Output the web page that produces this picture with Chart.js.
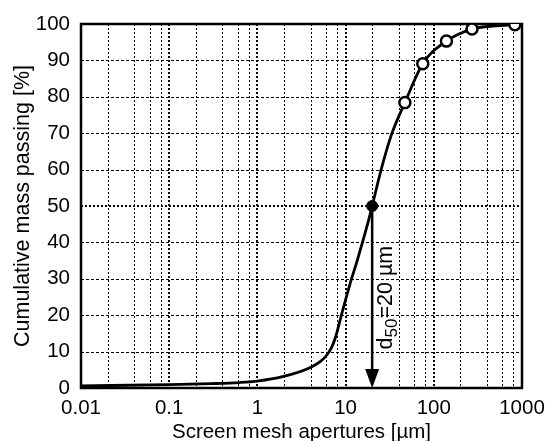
<!DOCTYPE html>
<html>
<head>
<meta charset="utf-8">
<script src="https://cdn.jsdelivr.net/npm/chart.js@4/dist/chart.umd.min.js"></script>
<style>
  html, body { margin: 0; padding: 0; background: #fff; }
  #wrap { width: 547px; height: 441px; }
</style>
</head>
<body>
<div id="wrap"><canvas id="c" width="547" height="441"></canvas></div>
<script>
// Fitted cumulative passing curve (aperture in µm, passing in %)
const curveX = [0.01, 0.1, 0.3, 0.62, 1, 1.93, 3.88, 5.2, 6.1, 6.9, 7.7, 8.89, 11.04, 13.72, 17.83, 20, 25.3, 32.9, 47, 75, 139, 271, 500, 830];
const curveY = [0.6, 0.9, 1.2, 1.5, 1.9, 3.1, 5.5, 7.3, 9.0, 11.0, 14.0, 19.7, 28.0, 35.5, 45.2, 50.0, 60.0, 69.4, 78.4, 89.1, 95.3, 98.6, 99.5, 99.8];

// Sieve measurements
const sieveX = [47, 75, 139, 271, 830];
const sieveY = [78.4, 89.1, 95.3, 98.6, 99.8];

// Median size
const d50 = 20;
const d50Passing = 50;

// Axis ticks
const xTicks = [0.01, 0.1, 1, 10, 100, 1000];
const xMinorSteps = [2, 4, 6, 8];
const yTicks = [0, 10, 20, 30, 40, 50, 60, 70, 80, 90, 100];

const FONT = "Arial, 'Liberation Sans', sans-serif";

const toPts = (xs, ys) => xs.map((x, i) => ({ x: x, y: ys[i] }));

// Grid, frame and d50 annotation drawn through the chart's scales
const decorations = {
  id: 'decorations',
  beforeDatasetsDraw(chart) {
    const { ctx, chartArea: a, scales: { x, y } } = chart;
    ctx.save();
    ctx.strokeStyle = '#000';
    // vertical lines: decades and minor subdivisions
    xTicks.slice(0, -1).forEach((d, i) => {
      const vals = (i === 0 ? [] : [1]).concat(xMinorSteps);
      vals.forEach(k => {
        const decade = (k === 1);
        const px = Math.round(x.getPixelForValue(k * d)) + (decade ? 0 : 0.5);
        ctx.lineWidth = decade ? 2 : 1;
        ctx.setLineDash([2, 2]);
        ctx.beginPath();
        ctx.moveTo(px, a.top);
        ctx.lineTo(px, a.bottom);
        ctx.stroke();
      });
    });
    // horizontal lines
    yTicks.forEach(v => {
      if (v === yTicks[0] || v === yTicks[yTicks.length - 1]) return;
      const py = Math.round(y.getPixelForValue(v));
      ctx.beginPath();
      if (v === d50Passing) {
        ctx.lineWidth = 2;
        ctx.setLineDash([2, 2]);
        ctx.moveTo(a.left, py);
        ctx.lineTo(a.right, py);
      } else {
        ctx.lineWidth = 1;
        ctx.setLineDash([3, 2]);
        ctx.moveTo(a.left, py + 0.5);
        ctx.lineTo(a.right, py + 0.5);
      }
      ctx.stroke();
    });
    ctx.setLineDash([]);
    // frame
    ctx.lineWidth = 2.5;
    ctx.strokeRect(a.left, a.top, a.right - a.left, a.bottom - a.top);

    // d50 arrow
    const ax = x.getPixelForValue(d50);
    const yTop = y.getPixelForValue(d50Passing);
    const yTip = y.getPixelForValue(0);
    const headH = 19, headW = 7;
    ctx.lineWidth = 2.5;
    ctx.beginPath();
    ctx.moveTo(ax, yTop);
    ctx.lineTo(ax, yTip - headH + 2);
    ctx.stroke();
    ctx.fillStyle = '#000';
    ctx.beginPath();
    ctx.moveTo(ax, yTip);
    ctx.lineTo(ax - headW, yTip - headH);
    ctx.lineTo(ax + headW, yTip - headH);
    ctx.closePath();
    ctx.fill();

    // rotated label "d50=20 µm"
    ctx.translate(ax + 20, y.getPixelForValue(10.6));
    ctx.rotate(-Math.PI / 2);
    ctx.textBaseline = 'alphabetic';
    ctx.textAlign = 'left';
    ctx.fillStyle = '#000';
    ctx.font = '21.5px ' + FONT;
    let cx = 0;
    ctx.fillText('d', cx, 0);
    cx += ctx.measureText('d').width;
    ctx.font = '17px ' + FONT;
    ctx.fillText('50', cx, 5);
    cx += ctx.measureText('50').width;
    ctx.font = '21.5px ' + FONT;
    ctx.fillText('=' + d50 + ' \u00B5m', cx, 0);
    ctx.restore();
  }
};

new Chart(document.getElementById('c'), {
  type: 'scatter',
  data: {
    datasets: [
      {
        label: 'curve',
        data: toPts(curveX, curveY),
        showLine: true,
        borderColor: '#000',
        borderWidth: 2.8,
        pointRadius: 0,
        cubicInterpolationMode: 'monotone',
        order: 3
      },
      {
        label: 'd50',
        data: [{ x: d50, y: d50Passing }],
        pointRadius: 5.5,
        pointBackgroundColor: '#000',
        pointBorderColor: '#000',
        pointBorderWidth: 1,
        order: 2
      },
      {
        label: 'sieve',
        data: toPts(sieveX, sieveY),
        pointRadius: 5.5,
        pointBackgroundColor: '#fff',
        pointBorderColor: '#000',
        pointBorderWidth: 2.5,
        order: 1
      }
    ]
  },
  options: {
    responsive: false,
    animation: false,
    layout: { padding: { left: 0, top: 24, right: 25, bottom: 0 } },
    plugins: {
      legend: { display: false },
      tooltip: { enabled: false }
    },
    scales: {
      x: {
        type: 'logarithmic',
        min: 0.01,
        max: 1000,
        afterBuildTicks: s => { s.ticks = xTicks.map(v => ({ value: v })); },
        afterFit: s => { s.height = 53; s.paddingLeft = 0; s.paddingRight = 0; },
        grid: { display: false, drawTicks: false },
        border: { display: false },
        ticks: {
          color: '#000',
          padding: 8,
          maxRotation: 0,
          autoSkip: false,
          font: { family: FONT, size: 20.5 },
          callback: v => String(v)
        },
        title: {
          display: true,
          text: 'Screen mesh apertures [\u00B5m]',
          color: '#000',
          font: { family: FONT, size: 20.5, lineHeight: 0.85 },
          padding: { top: 0, bottom: 0 }
        }
      },
      y: {
        min: 0,
        max: 100,
        afterBuildTicks: s => { s.ticks = yTicks.map(v => ({ value: v })); },
        afterFit: s => { s.width = 81; s.paddingTop = 0; s.paddingBottom = 0; },
        grid: { display: false, drawTicks: false },
        border: { display: false },
        ticks: {
          color: '#000',
          padding: 11,
          font: { family: FONT, size: 20.5 }
        },
        title: {
          display: true,
          text: 'Cumulative mass passing [%]',
          color: '#000',
          font: { family: FONT, size: 21.5, lineHeight: 1 },
          padding: { top: 12, bottom: 0 }
        }
      }
    }
  },
  plugins: [decorations]
});
</script>
</body>
</html>
